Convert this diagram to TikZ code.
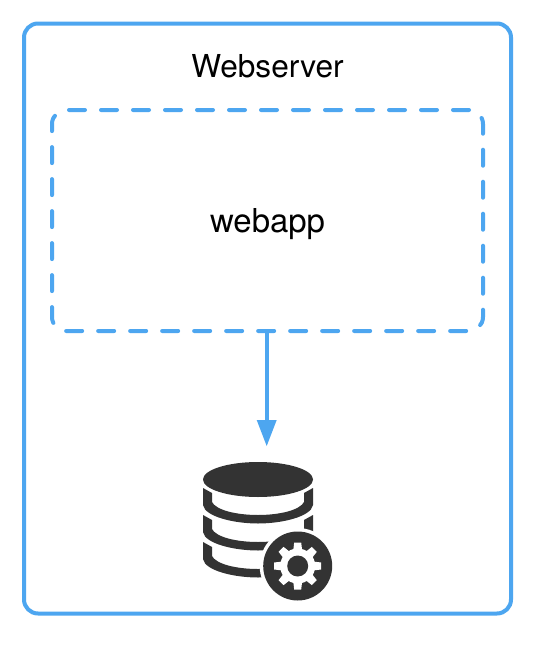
\documentclass[tikz,border=0pt]{standalone}
\usepackage{fontspec}
\setmainfont{TeX Gyre Heros}
\definecolor{blueline}{HTML}{4DA6F0}
\definecolor{dbdark}{HTML}{333333}
\tikzset{
  outerbox/.style={draw=blueline,line width=3pt,rounded corners=10.5pt,minimum width=365.25pt,minimum height=442.5pt,inner sep=0pt},
  innerbox/.style={draw=blueline,line width=3pt,rounded corners=10.5pt,minimum width=323.25pt,minimum height=165.75pt,inner sep=0pt,line cap=round,dash pattern=on 12pt off 12pt},
  titletext/.style={font=\fontsize{23.7pt}{26pt}\selectfont,inner sep=0pt},
  applabeltext/.style={font=\fontsize{24.7pt}{27pt}\selectfont,inner sep=0pt},
  flow/.style={draw=blueline,line width=3pt},
  headfill/.style={fill=blueline,draw=none},
  band/.style={fill=dbdark,draw=none},
}
\begin{document}
\begin{tikzpicture}[x=0.75pt,y=-0.75pt]
\useasboundingbox (0,0) rectangle (542,650);
\fill[white] (0,0) rectangle (542,650);
\node[outerbox] (server) at (267.5,318.5) {};
\node[titletext] (title) at (267.5,66) {Webserver};
\node[innerbox] (webapp) at (267.5,220.5) {};
\node[applabeltext] (applabel) at (267.5,224.5) {webapp};
\coordinate (dbtop) at (266.7,446);
\draw[flow] (webapp.south -| dbtop) -- (266.7,424);
\fill[headfill] (256.7,420) -- (276.7,420) -- (dbtop) -- cycle;
% database icon
\begin{scope}
\fill[band] (258,479.5) ellipse [x radius=55, y radius=17.5];
\foreach \d in {0,27,54}{
  \fill[band,yshift=-0.75*\d pt] (203,488) -- (203,505)
    .. controls (205,517) and (235,523.5) .. (258,523.5)
    .. controls (281,523.5) and (311,517) .. (313,505)
    -- (313,488) -- (304,493) -- (304,502)
    .. controls (300,510) and (280,515) .. (258,515)
    .. controls (236,515) and (216,510) .. (212,502)
    -- (212,493) -- cycle;
}
\fill[white] (297.7,566) circle (38);
\fill[band] (297.7,566) circle (34.5);
\begin{scope}[shift={(297.7,566)}]
\fill[white] (0,0) circle (17.5);
\foreach \a in {0,45,...,315}{
  \fill[white,rotate=\a] (-4.5,-15) -- (4.5,-15) -- (3.5,-23.5) -- (-3.5,-23.5) -- cycle;
}
\fill[band] (0,0) circle (10.5);
\end{scope}
\end{scope}
\end{tikzpicture}
\end{document}
